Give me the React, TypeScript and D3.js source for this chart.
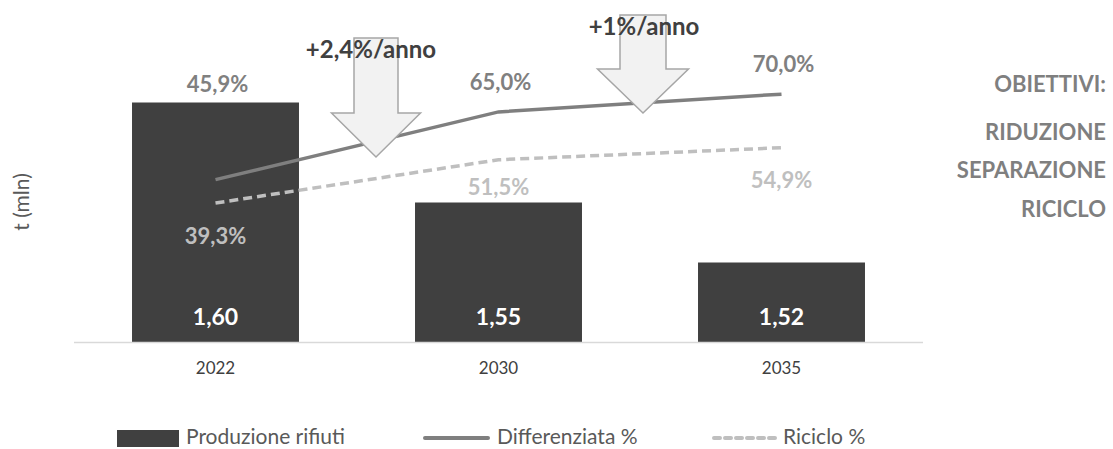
import React from "react";
import * as d3 from "d3";

const years = ["2022", "2030", "2035"];
const produzione = [1.6, 1.55, 1.52];
const differenziata = [45.9, 65.0, 70.0];
const riciclo = [39.3, 51.5, 54.9];
const obiettivi = ["OBIETTIVI:", "RIDUZIONE", "SEPARAZIONE", "RICICLO"];
const annotations = [
  { label: "+2,4%/anno", between: 0 },
  { label: "+1%/anno", between: 1 },
];

const W = 1113;
const H = 449;
const FONT = "Lato, 'Open Sans', sans-serif";

const fmt2 = (v: number) => v.toFixed(2).replace(".", ",");
const fmt1 = (v: number) => v.toFixed(1).replace(".", ",") + "%";

export default function App() {
  const base = 342.5;
  const x = d3
    .scaleBand<string>()
    .domain(years)
    .range([74, 923])
    .paddingInner(0.41)
    .paddingOuter(0.205);
  const yL = d3.scaleLinear().domain([1.48, 1.7]).range([base, base - 440]);
  const yR = d3.scaleLinear().domain([0, 100]).range([base, base - 354.8]);
  const cx = (i: number) => (x(years[i]) as number) + x.bandwidth() / 2;

  const line = d3
    .line<number>()
    .x((_, i) => cx(i))
    .y((d) => yR(d));

  // arrow geometry (annotation shapes)
  const arrowSpecs = [
    { cx: 376, top: 38, headY: 113, tip: 157, shaftW: 44, headW: 89, textX: 371, textY: 58 },
    { cx: 643, top: 15, headY: 69, tip: 113, shaftW: 46, headW: 91, textX: 644, textY: 35 },
  ];
  const arrowPath = (a: (typeof arrowSpecs)[0]) => {
    const s = a.shaftW / 2;
    const h = a.headW / 2;
    return `M${a.cx - s},${a.top} L${a.cx + s},${a.top} L${a.cx + s},${a.headY} L${a.cx + h},${a.headY} L${a.cx},${a.tip} L${a.cx - h},${a.headY} L${a.cx - s},${a.headY} Z`;
  };
  const ricicloOffsets = [41, 35, 40];

  return (
    <svg
      width={W}
      height={H}
      style={{ position: "absolute", left: 0, top: 0, background: "#fff" }}
      fontFamily={FONT}
    >
      {/* y label */}
      <text
        transform={`translate(29,202) rotate(-90)`}
        textAnchor="middle"
        fontSize={21}
        fill="#595959"
      >
        t (mln)
      </text>

      {/* bars */}
      {produzione.map((v, i) => (
        <rect
          key={"b" + i}
          x={x(years[i])}
          y={yL(v)}
          width={x.bandwidth()}
          height={base - yL(v)}
          fill="#404040"
        />
      ))}

      {/* axis baseline */}
      <line x1={74} x2={923} y1={base} y2={base} stroke="#d9d9d9" strokeWidth={1.5} />

      {/* x tick labels */}
      {years.map((y, i) => (
        <text key={"x" + i} x={cx(i)} y={374} textAnchor="middle" fontSize={17} fill="#404040">
          {y}
        </text>
      ))}

      {/* bar value labels */}
      {produzione.map((v, i) => (
        <text
          key={"bv" + i}
          x={cx(i)}
          y={325}
          textAnchor="middle"
          fontSize={23}
          fontWeight="bold"
          fill="#ffffff"
        >
          {fmt2(v)}
        </text>
      ))}

      {/* lines */}
      <path d={line(differenziata) || ""} fill="none" stroke="#7f7f7f" strokeWidth={3.5} />
      <path
        d={line(riciclo) || ""}
        fill="none"
        stroke="#bfbfbf"
        strokeWidth={3.5}
        strokeDasharray="9,5"
      />

      {/* line labels */}
      {differenziata.map((v, i) => (
        <text
          key={"dl" + i}
          x={cx(i) + 2}
          y={i === 0 ? yL(produzione[0]) - 11 : yR(v) - 22}
          textAnchor="middle"
          fontSize={22}
          fontWeight="bold"
          fill="#808080"
        >
          {fmt1(v)}
        </text>
      ))}
      {riciclo.map((v, i) => (
        <text
          key={"rl" + i}
          x={cx(i)}
          y={yR(v) + ricicloOffsets[i]}
          textAnchor="middle"
          fontSize={22}
          fontWeight="bold"
          fill="#bfbfbf"
        >
          {fmt1(v)}
        </text>
      ))}

      {/* arrows */}
      {annotations.map((a, i) => (
        <g key={"a" + i}>
          <path
            d={arrowPath(arrowSpecs[i])}
            fill="#f2f2f2"
            stroke="#a6a6a6"
            strokeWidth={1.5}
            strokeLinejoin="miter"
          />
          <text
            x={arrowSpecs[i].textX}
            y={arrowSpecs[i].textY}
            textAnchor="middle"
            fontSize={24}
            fontWeight="bold"
            fill="#404040"
          >
            {a.label}
          </text>
        </g>
      ))}

      {/* right text */}
      {obiettivi.map((t, i) => (
        <text
          key={"o" + i}
          x={1106}
          y={[92, 140, 178, 217][i]}
          textAnchor="end"
          fontSize={22}
          fontWeight="bold"
          fill="#7f7f7f"
        >
          {t}
        </text>
      ))}

      {/* legend */}
      <g fontSize={21} fill="#595959">
        <rect x={117} y={430} width={62} height={17} fill="#404040" />
        <text x={186} y={444}>
          Produzione rifiuti
        </text>
        <line x1={425} x2={488} y1={438} y2={438} stroke="#7f7f7f" strokeWidth={4} strokeLinecap="round" />
        <text x={497} y={444}>
          Differenziata %
        </text>
        <line
          x1={714}
          x2={777}
          y1={438}
          y2={438}
          stroke="#bfbfbf"
          strokeWidth={4}
          strokeDasharray="6,5"
          strokeLinecap="round"
        />
        <text x={783} y={444}>
          Riciclo %
        </text>
      </g>
    </svg>
  );
}
